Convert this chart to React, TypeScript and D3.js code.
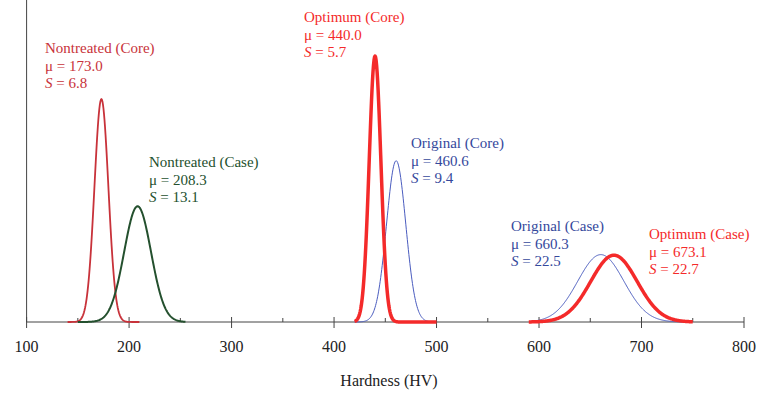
import React from "react";
import * as d3 from "d3";

const seriesNames = ["Nontreated (Core)", "Nontreated (Case)", "Optimum (Core)", "Original (Core)", "Original (Case)", "Optimum (Case)"];
const means = [173.0, 208.3, 440.0, 460.6, 660.3, 673.1];
const sds = [6.8, 13.1, 5.7, 9.4, 22.5, 22.7];
const rangeStart = [140, 150, 420, 420, 592, 590];
const rangeEnd = [210, 255, 500, 495, 740, 750];
const colors = ["#c8323a", "#24502e", "#f42a2a", "#4a5cbf", "#4a5cbf", "#f42a2a"];
const textColors = ["#c8323a", "#24502e", "#f42a2a", "#34489c", "#34489c", "#f42a2a"];
const strokeWidths = [1.8, 2, 3.5, 1, 1, 3.5];
const labelX = [45, 149, 304, 411, 511, 649];
const labelY = [53, 167, 22, 148, 231, 239];
const xTicks = [100, 200, 300, 400, 500, 600, 700, 800];
const xMinorTicks = [150, 250, 350, 450, 550, 650, 750];

const W = 757, H = 394;
const axisY = 322;

export default function App() {
  const x = d3.scaleLinear().domain([100, 800]).range([26.6, 744]);
  const y = d3.scaleLinear().domain([0, 0.08]).range([axisY, axisY - 304]);
  const pdf = (v: number, m: number, s: number) => Math.exp(-0.5 * ((v - m) / s) ** 2) / (s * Math.sqrt(2 * Math.PI));
  const line = d3.line<[number, number]>().x(d => x(d[0])).y(d => y(d[1])).curve(d3.curveLinear);
  const order = [0, 1, 3, 4, 2, 5];
  const font = "'Liberation Serif', 'Times New Roman', serif";
  return (
    <svg width={W} height={H} style={{ position: "absolute", left: 0, top: 0, background: "#fff" }} fontFamily={font}>
      <line x1={x(100)} x2={x(100)} y1={0} y2={axisY} stroke="#444" strokeWidth={1} />
      <line x1={x(100)} x2={x(800)} y1={axisY} y2={axisY} stroke="#444" strokeWidth={1} />
      {xTicks.map(t => (
        <g key={t}>
          <line x1={x(t)} x2={x(t)} y1={axisY - 5} y2={axisY + 6} stroke="#444" strokeWidth={1} />
          <text x={x(t)} y={352} textAnchor="middle" fontSize={16} fill="#222">{t}</text>
        </g>
      ))}
      {xMinorTicks.map(t => (
        <line key={t} x1={x(t)} x2={x(t)} y1={axisY - 4} y2={axisY} stroke="#444" strokeWidth={1} />
      ))}
      <text x={389} y={386} textAnchor="middle" fontSize={16} fill="#222">Hardness (HV)</text>
      {order.map(i => {
        const pts: [number, number][] = d3.range(rangeStart[i], rangeEnd[i] + 0.001, 0.5).map(v => [v, pdf(v, means[i], sds[i])]);
        return <path key={i} d={line(pts) || ""} fill="none" stroke={colors[i]} strokeWidth={strokeWidths[i]} strokeLinejoin="round" />;
      })}
      {seriesNames.map((n, i) => (
        <text key={n} x={labelX[i]} fontSize={15} fill={textColors[i]}>
          <tspan x={labelX[i]} y={labelY[i]}>{n}</tspan>
          <tspan x={labelX[i]} y={labelY[i] + 17.5}>{"μ = " + means[i].toFixed(1)}</tspan>
          <tspan x={labelX[i]} y={labelY[i] + 35}><tspan fontStyle="italic">S</tspan>{" = " + sds[i].toFixed(1)}</tspan>
        </text>
      ))}
    </svg>
  );
}
